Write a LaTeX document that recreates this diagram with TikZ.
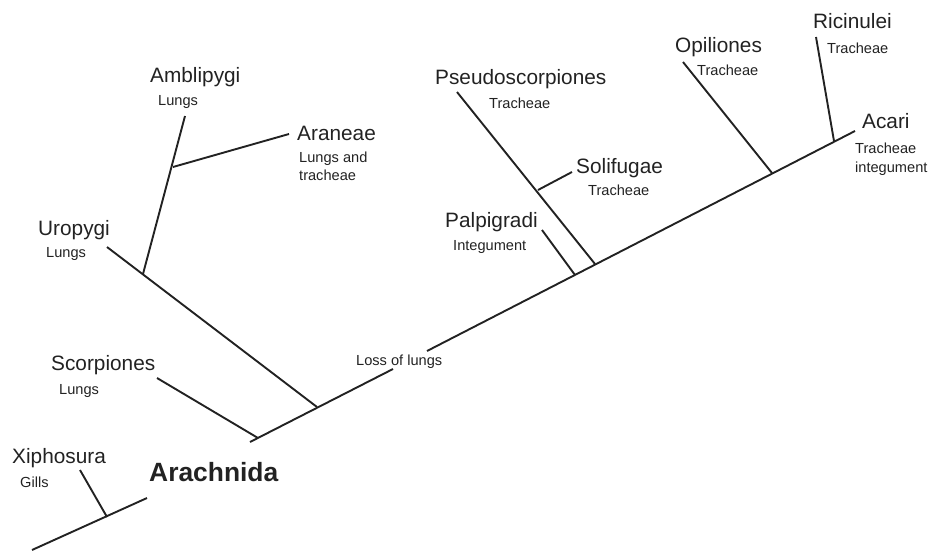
\documentclass[tikz,border=0pt]{standalone}
\usepackage{fontspec}
\setmainfont{Liberation Sans}
\definecolor{ink}{HTML}{222222}
\begin{document}
\begin{tikzpicture}[x=1pt,y=-1pt,
  branch/.style={draw=ink,line width=1.9pt},
  taxon/.style={anchor=base west,inner sep=0pt,text=ink,font=\fontsize{20.8}{22}\selectfont},
  trait/.style={anchor=base west,inner sep=0pt,text=ink,font=\fontsize{14.6}{18}\selectfont},
  big/.style={anchor=base west,inner sep=0pt,text=ink,font=\fontsize{26.4}{28}\selectfont\bfseries}]
\useasboundingbox (0,0) rectangle (931,552);
% labels
\node[taxon] (xip) at (12,463) {Xiphosura};
\node[trait] (xipt) at (20,487) {Gills};
\node[big] (ara) at (149,481) {Arachnida};
\node[taxon] (sco) at (51,370) {Scorpiones};
\node[trait] (scot) at (59,394) {Lungs};
\node[taxon] (uro) at (38,235) {Uropygi};
\node[trait] (urot) at (46,257) {Lungs};
\node[taxon] (amb) at (150,82) {Amblipygi};
\node[trait] (ambt) at (158,105) {Lungs};
\node[taxon] (arn) at (297,140) {Araneae};
\node[trait] (arnt1) at (299,162) {Lungs and};
\node[trait] (arnt2) at (299,180) {tracheae};
\node[taxon] (pse) at (435,84) {Pseudoscorpiones};
\node[trait] (pset) at (489,108) {Tracheae};
\node[taxon] (sol) at (576,173) {Solifugae};
\node[trait] (solt) at (588,195) {Tracheae};
\node[taxon] (pal) at (445,227) {Palpigradi};
\node[trait] (palt) at (453,250) {Integument};
\node[taxon] (opi) at (675,52) {Opiliones};
\node[trait] (opit) at (697,75) {Tracheae};
\node[taxon] (ric) at (813,28) {Ricinulei};
\node[trait] (rict) at (827,53) {Tracheae};
\node[taxon] (aca) at (862,128) {Acari};
\node[trait] (acat1) at (855,153) {Tracheae};
\node[trait] (acat2) at (855,172) {integument};
\node[trait] (loss) at (356,365) {Loss of lungs};
% coordinates
\coordinate (r0) at (32,550);
\coordinate (r1) at (147,498);
\coordinate (jx) at (107,517);
\coordinate (ex) at (80,470);
\coordinate (a0) at (250,442);
\coordinate (jsc) at (258,438);
\coordinate (esc) at (157,378);
\coordinate (ju) at (317,407);
\coordinate (eu) at (107,247);
\coordinate (jam) at (143,274);
\coordinate (eam) at (185,116);
\coordinate (jar) at (173,167);
\coordinate (ear) at (289,134);
\coordinate (g1) at (393,369);
\coordinate (g2) at (427,351);
\coordinate (jpa) at (575,275);
\coordinate (epa) at (542,230);
\coordinate (jps) at (595,264);
\coordinate (eps) at (457,92);
\coordinate (jso) at (538,190);
\coordinate (eso) at (572,172);
\coordinate (jop) at (772,173);
\coordinate (eop) at (683,62);
\coordinate (jri) at (834,141);
\coordinate (eri) at (816,37);
\coordinate (eac) at (855,131);
% branches
\draw[branch] (r0) -- (r1);
\draw[branch] (ex) -- (jx);
\draw[branch] (a0) -- (g1);
\draw[branch] (g2) -- (eac);
\draw[branch] (esc) -- (jsc);
\draw[branch] (eu) -- (ju);
\draw[branch] (eam) -- (jam);
\draw[branch] (jar) -- (ear);
\draw[branch] (epa) -- (jpa);
\draw[branch] (eps) -- (jps);
\draw[branch] (jso) -- (eso);
\draw[branch] (eop) -- (jop);
\draw[branch] (eri) -- (jri);
\end{tikzpicture}
\end{document}
